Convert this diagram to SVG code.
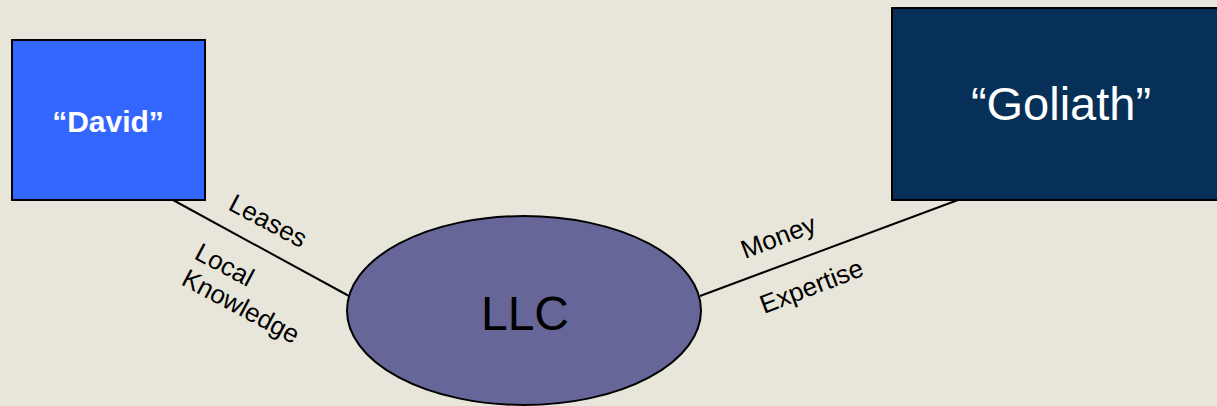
<svg xmlns="http://www.w3.org/2000/svg" width="1217" height="406" viewBox="0 0 1217 406">
<style>
.box{stroke:#000;stroke-width:2}
.conn{stroke:#000;stroke-width:2;fill:none}
.lbl{font-family:"Liberation Sans",Arial,sans-serif;font-size:26px;fill:#000}
</style>
<rect width="1217" height="406" fill="#E8E6DA"/>
<g id="connectors">
<line class="conn" x1="173" y1="200" x2="349" y2="296"/>
<line class="conn" x1="700" y1="296" x2="958" y2="200"/>
<text class="lbl" transform="translate(227,209) rotate(28)">Leases</text>
<text class="lbl" transform="translate(193,258) rotate(28)">Local</text>
<text class="lbl" transform="translate(180,284) rotate(28)">Knowledge</text>
<text class="lbl" transform="translate(745,259) rotate(-21)">Money</text>
<text class="lbl" transform="translate(764,314) rotate(-21)">Expertise</text>
</g>
<g id="david">
<rect class="box" x="12" y="40" width="193" height="160" fill="#3366FF"/>
<text x="108" y="132" text-anchor="middle" font-family="'Liberation Sans',Arial,sans-serif" font-size="30" font-weight="bold" fill="#fff">“David”</text>
</g>
<g id="goliath">
<rect class="box" x="892" y="8" width="330" height="192" fill="#063058"/>
<text x="1061" y="120" text-anchor="middle" font-family="'Liberation Sans',Arial,sans-serif" font-size="47" fill="#fff">“Goliath”</text>
</g>
<g id="llc">
<ellipse class="box" cx="524" cy="310.5" rx="177" ry="94.5" fill="#666699"/>
<text x="525" y="330" text-anchor="middle" font-family="'Liberation Sans',Arial,sans-serif" font-size="48" fill="#000">LLC</text>
</g>
</svg>
